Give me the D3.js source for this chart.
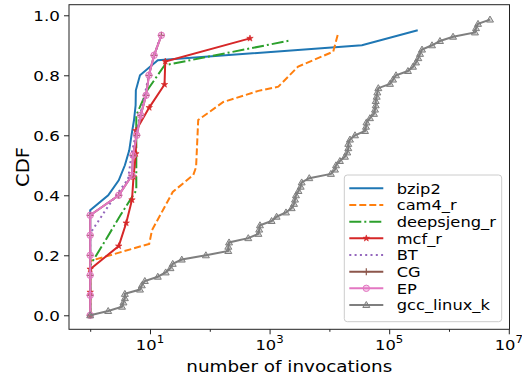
<!DOCTYPE html>
<html>
<head>
<meta charset="utf-8">
<script src="https://cdn.jsdelivr.net/npm/d3@7"></script>
<style>
  body { margin: 0; background: #fff; }
  text { font-family: "DejaVu Sans", sans-serif; fill: #000; }
</style>
</head>
<body>
<svg id="chart" width="522" height="381"></svg>
<script>
// number of invocations per function, sorted (CDF built from rank)
const bzip2 = [1, 1, 1, 1, 1, 1, 1, 1, 2, 3, 3.8, 4.5, 4.9, 5.4, 5.75, 5.8, 6.8, 13.5, 35000, 300000];
const deepsjengR = [1, 1, 1, 1.8, 3.2, 5.9, 5.9, 5.9, 5.9, 9, 17.5, 2300];
const mcfR = [1, 1, 1, 3, 4, 5, 5.3, 5.8, 5.8, 9.7, 17.5, 18, 470];
const bt = [1, 1, 1, 1, 2, 4.3, 5, 6.3, 8, 10, 13.8];
const cg = [1, 1, 1, 1, 1, 1, 3, 5, 5.2, 6, 7, 8.6, 9.6, 11.7, 15.5];
const ep = [1, 1, 1, 1, 1, 1, 3, 5, 5.2, 6, 7, 8.6, 9.6, 11.7, 15.5];
const gccLinuxK = [1, 2, 3.4, 3.6, 3.8, 3.8, 6.8, 7.3, 8.2, 13.5, 18.3, 22, 24, 34, 86, 204, 204, 210,
  440, 650, 670, 690, 1080, 1310, 1880, 2340, 2560, 2660, 2760, 3040, 3310, 3440, 4610, 10600, 12400,
  12900, 15000, 18200, 19900, 20700, 20700, 22100, 26800, 39400, 40900, 41700, 47700, 55700, 57900,
  59500, 59500, 61800, 63300, 65800, 103000, 116000, 130000, 206000, 250000, 281000, 307000, 328000,
  354000, 520000, 707000, 1170000, 2720000, 2830000, 3060000, 4850000];

// cam4_r: many samples, kept as the vertices of its curve
const cam4X = [1, 1, 9.7, 10.8, 16.5, 24, 53, 59, 64, 168, 650, 1400, 3000, 11600, 14000];
const cam4Y = [0, 0.181, 0.238, 0.284, 0.351, 0.411, 0.468, 0.494, 0.651, 0.711, 0.748, 0.762, 0.829, 0.879, 0.94];

const names = ['bzip2', 'cam4_r', 'deepsjeng_r', 'mcf_r', 'BT', 'CG', 'EP', 'gcc_linux_k'];
const xTicks = [10, 1000, 100000, 10000000];
const xMinorTicks = [1, 100, 10000, 1000000];
const yTicks = [0, 0.2, 0.4, 0.6, 0.8, 1.0];

const ecdf = vals => vals.map((v, i) => [v, i / vals.length]);

const series = [
  { name: names[0], pts: ecdf(bzip2), color: '#1f77b4', dash: null, marker: null },
  { name: names[1], pts: cam4X.map((v, i) => [v, cam4Y[i]]), color: '#ff7f0e', dash: '7,3', marker: null },
  { name: names[2], pts: ecdf(deepsjengR), color: '#2ca02c', dash: '12,3,2,3', marker: null },
  { name: names[3], pts: ecdf(mcfR), color: '#d62728', dash: null, marker: 'star' },
  { name: names[4], pts: ecdf(bt), color: '#9467bd', dash: '2,3.3', marker: null },
  { name: names[5], pts: ecdf(cg), color: '#8c564b', dash: null, marker: 'plus' },
  { name: names[6], pts: ecdf(ep), color: '#e377c2', dash: null, marker: 'circle' },
  { name: names[7], pts: ecdf(gccLinuxK), color: '#7f7f7f', dash: null, marker: 'triangle' }
];

const svg = d3.select('#chart');
const plotLeft = 69, plotRight = 509.5, plotTop = 4.7, plotBottom = 329.3;

const x = d3.scaleLog().domain([Math.pow(10, -0.3545), Math.pow(10, 7.012)]).range([plotLeft, plotRight]);
const y = d3.scaleLinear().domain([-0.0467, 1.0353]).range([plotBottom, plotTop]);

svg.append('defs').append('clipPath').attr('id', 'plotclip')
  .append('rect').attr('x', plotLeft).attr('y', plotTop)
  .attr('width', plotRight - plotLeft).attr('height', plotBottom - plotTop);

// axes
const xAxis = svg.append('g').attr('transform', `translate(0,${plotBottom})`)
  .call(d3.axisBottom(x).tickValues(xTicks).tickSize(5).tickFormat(''));
xAxis.select('.domain').remove();
xAxis.selectAll('line').attr('stroke', '#222');

const xMinor = svg.append('g').attr('transform', `translate(0,${plotBottom})`)
  .call(d3.axisBottom(x).tickValues(xMinorTicks).tickSize(2.5).tickFormat(''));
xMinor.select('.domain').remove();
xMinor.selectAll('line').attr('stroke', '#222');

xTicks.forEach(v => {
  const t = svg.append('text')
    .attr('transform', `translate(${x(v)},350) scale(1.12,1)`)
    .attr('text-anchor', 'middle')
    .style('font-size', '14.6px');
  t.append('tspan').text('10');
  t.append('tspan').attr('dy', -7).style('font-size', '10.5px').text(Math.round(Math.log10(v)));
});

const yAxis = svg.append('g').attr('transform', `translate(${plotLeft},0)`)
  .call(d3.axisLeft(y).tickValues(yTicks).tickSize(5).tickPadding(4).tickFormat(d3.format('.1f')));
yAxis.select('.domain').remove();
yAxis.selectAll('line').attr('stroke', '#222');
yAxis.selectAll('text')
  .attr('font-family', null)
  .style('font-size', '14.8px')
  .attr('x', -8)
  .attr('transform', 'scale(1.13,1)');

svg.append('text')
  .attr('transform', `translate(${(plotLeft + plotRight) / 2},372) scale(1.12,1)`)
  .attr('text-anchor', 'middle')
  .style('font-size', '16.4px')
  .text('number of invocations');

svg.append('text')
  .attr('transform', `translate(29,${(plotTop + plotBottom) / 2}) rotate(-90) scale(1.12,1)`)
  .attr('text-anchor', 'middle')
  .style('font-size', '17.5px')
  .text('CDF');

// markers
function drawMarker(g, kind, color, cx, cy) {
  if (kind === 'star') {
    g.append('path').attr('d', d3.symbol(d3.symbolStar, 13)())
      .attr('transform', `translate(${cx},${cy})`).attr('fill', color).attr('stroke', color).attr('stroke-width', 0.6);
  } else if (kind === 'plus') {
    g.append('path').attr('d', 'M-3.5,0H3.5M0,-3.5V3.5')
      .attr('transform', `translate(${cx},${cy})`).attr('stroke', color).attr('stroke-width', 1.2).attr('fill', 'none');
  } else if (kind === 'circle') {
    g.append('circle').attr('cx', cx).attr('cy', cy).attr('r', 3.2)
      .attr('fill', color).attr('fill-opacity', 0.35).attr('stroke', color).attr('stroke-width', 1);
  } else if (kind === 'triangle') {
    g.append('path').attr('d', 'M0,-3.5L3.5,2.5L-3.5,2.5Z')
      .attr('transform', `translate(${cx},${cy})`).attr('fill', color).attr('fill-opacity', 0.35)
      .attr('stroke', color).attr('stroke-width', 1);
  }
}

const line = d3.line().x(d => x(d[0])).y(d => y(d[1]));
const plot = svg.append('g').attr('clip-path', 'url(#plotclip)');

series.forEach(s => {
  const g = plot.append('g');
  g.append('path').datum(s.pts)
    .attr('d', line)
    .attr('fill', 'none')
    .attr('stroke', s.color)
    .attr('stroke-width', 2)
    .attr('stroke-dasharray', s.dash);
  if (s.marker) s.pts.forEach(p => drawMarker(g, s.marker, s.color, x(p[0]), y(p[1])));
});

// frame
svg.append('rect')
  .attr('x', plotLeft).attr('y', plotTop)
  .attr('width', plotRight - plotLeft).attr('height', plotBottom - plotTop)
  .attr('fill', 'none').attr('stroke', '#222').attr('stroke-width', 1);

// legend
const legend = svg.append('g');
legend.append('rect')
  .attr('x', 344.3).attr('y', 175).attr('width', 157.4).attr('height', 146.7).attr('rx', 3)
  .attr('fill', '#fff').attr('fill-opacity', 0.8).attr('stroke', '#ccc').attr('stroke-width', 1);

series.forEach((s, i) => {
  const cy = 188.3 + i * 16.67;
  legend.append('line')
    .attr('x1', 349.3).attr('x2', 383.3).attr('y1', cy).attr('y2', cy)
    .attr('stroke', s.color).attr('stroke-width', 2).attr('stroke-dasharray', s.dash);
  if (s.marker) drawMarker(legend, s.marker, s.color, 366.3, cy);
  legend.append('text')
    .attr('transform', `translate(396.7,${cy + 5.3}) scale(1.1,1)`)
    .style('font-size', '14.8px')
    .text(s.name);
});
</script>
</body>
</html>
